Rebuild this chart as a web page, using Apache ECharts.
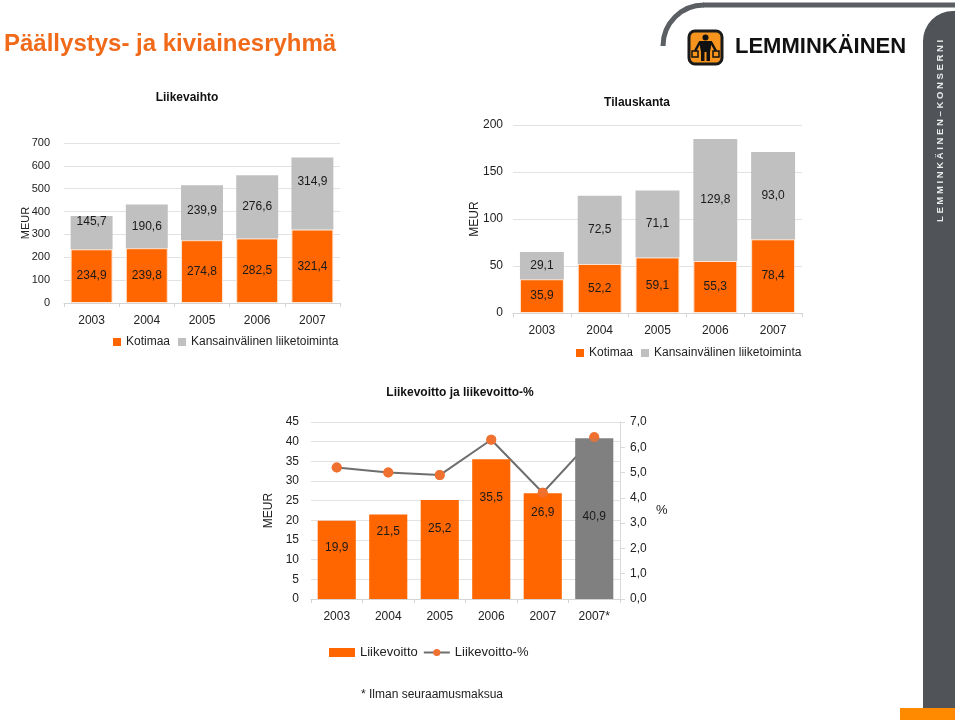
<!DOCTYPE html>
<html>
<head>
<meta charset="utf-8">
<title>Päällystys- ja kiviainesryhmä</title>
<script src="https://cdn.jsdelivr.net/npm/echarts@6/dist/echarts.min.js"></script>
<style>
  html, body { margin: 0; padding: 0; background: #fff; }
  #chart { width: 960px; height: 720px; }
</style>
</head>
<body>
<div id="chart"></div>
<script>
// Liikevaihto (MEUR)
const years = ['2003', '2004', '2005', '2006', '2007'];
const salesDomestic = [234.9, 239.8, 274.8, 282.5, 321.4];
const salesIntl = [145.7, 190.6, 239.9, 276.6, 314.9];

// Tilauskanta (MEUR)
const orderDomestic = [35.9, 52.2, 59.1, 55.3, 78.4];
const orderIntl = [29.1, 72.5, 71.1, 129.8, 93.0];

// Liikevoitto (MEUR) ja liikevoitto-%
const profitYears = ['2003', '2004', '2005', '2006', '2007', '2007*'];
const profit = [19.9, 21.5, 25.2, 35.5, 26.9, 40.9];
const profitPct = [5.2, 5.0, 4.9, 6.3, 4.2, 6.4];

const ORANGE = '#ff6600';
const FONT = '"Liberation Sans", Arial, sans-serif';
const fmt = v => v.toFixed(1).replace('.', ',');

// label nudges (pixels) so the numbers sit where the original slide has them
const salesIntlLabelDy = [-11, 0, -2, 0, -12];
const profitLabelDy = [-12, -25, -21, -31, -33, -2];

const chart = echarts.init(document.getElementById('chart'));

const catAxis = (gridIndex, data) => ({
  type: 'category',
  gridIndex: gridIndex,
  data: data,
  axisLine: { lineStyle: { color: '#d4d4d4' } },
  axisTick: { show: true, length: 4, lineStyle: { color: '#d4d4d4' } },
  axisLabel: { color: '#222', fontSize: 12, margin: 12 }
});

const valAxis = (gridIndex, max, interval, gap, labelMargin, fontSize) => ({
  type: 'value',
  gridIndex: gridIndex,
  min: 0,
  max: max,
  interval: interval,
  name: 'MEUR',
  nameLocation: 'middle',
  nameGap: gap,
  nameMoveOverlap: false,
  nameTextStyle: { color: '#222', fontSize: fontSize },
  axisLine: { show: false },
  axisTick: { show: false },
  axisLabel: { color: '#222', fontSize: fontSize, margin: labelMargin },
  splitLine: { lineStyle: { color: '#e2e2e2' } }
});

const barLabel = {
  show: true,
  position: 'inside',
  color: '#1a1a1a',
  fontSize: 12,
  formatter: p => fmt(p.value)
};

const legendBase = {
  padding: 0,
  itemStyle: { borderWidth: 0 },
  textStyle: { color: '#222', fontSize: 12 }
};

const option = {
  animation: false,
  textStyle: { fontFamily: FONT },
  grid: [
    { left: 64, top: 143, width: 276, height: 160 },
    { left: 513, top: 125, width: 289, height: 188 },
    { left: 311, top: 422, width: 309, height: 177 }
  ],
  legend: [
    Object.assign({}, legendBase, {
      left: 113, top: 336, icon: 'rect', itemWidth: 8, itemHeight: 8, itemGap: 8,
      data: ['Kotimaa', 'Kansainvälinen liiketoiminta']
    }),
    Object.assign({}, legendBase, {
      left: 576, top: 347, icon: 'rect', itemWidth: 8, itemHeight: 8, itemGap: 8,
      data: ['Kotimaa', 'Kansainvälinen liiketoiminta']
    }),
    Object.assign({}, legendBase, {
      left: 329, top: 646, itemWidth: 26, itemHeight: 9, itemGap: 5,
      textStyle: { color: '#222', fontSize: 13 },
      data: [{ name: 'Liikevoitto', icon: 'rect' }, { name: 'Liikevoitto-%' }]
    })
  ],
  xAxis: [
    catAxis(0, years),
    catAxis(1, years),
    catAxis(2, profitYears)
  ],
  yAxis: [
    valAxis(0, 700, 100, 33, 14, 11),
    valAxis(1, 200, 50, 32, 10, 12),
    valAxis(2, 45, 5, 36, 12, 12),
    {
      type: 'value',
      gridIndex: 2,
      position: 'right',
      min: 0,
      max: 7,
      interval: 1,
      name: '%',
      nameLocation: 'middle',
      nameRotate: 0,
      nameGap: 36,
      nameMoveOverlap: false,
      nameTextStyle: { color: '#222', fontSize: 13 },
      axisLine: { show: true, lineStyle: { color: '#d9d9d9' } },
      axisTick: { show: true, length: 5, lineStyle: { color: '#d9d9d9' } },
      axisLabel: { color: '#222', fontSize: 12, margin: 10, formatter: v => fmt(v) },
      splitLine: { show: false }
    }
  ],
  series: [
    // Liikevaihto
    {
      name: 'Kotimaa', type: 'bar', stack: 'sales', xAxisIndex: 0, yAxisIndex: 0,
      barCategoryGap: '24%',
      data: salesDomestic,
      itemStyle: { color: ORANGE, borderColor: '#fde6d4', borderWidth: 1 },
      label: barLabel
    },
    {
      name: 'Kansainvälinen liiketoiminta', type: 'bar', stack: 'sales', xAxisIndex: 0, yAxisIndex: 0,
      barCategoryGap: '24%',
      data: salesIntl.map((v, i) => ({ value: v, label: { offset: [0, salesIntlLabelDy[i]] } })),
      itemStyle: { color: '#c0c0c0' },
      label: barLabel
    },
    // Tilauskanta
    {
      name: 'Kotimaa', type: 'bar', stack: 'orders', xAxisIndex: 1, yAxisIndex: 1,
      barCategoryGap: '24%',
      data: orderDomestic,
      itemStyle: { color: ORANGE, borderColor: '#fde6d4', borderWidth: 1 },
      label: barLabel
    },
    {
      name: 'Kansainvälinen liiketoiminta', type: 'bar', stack: 'orders', xAxisIndex: 1, yAxisIndex: 1,
      barCategoryGap: '24%',
      data: orderIntl,
      itemStyle: { color: '#c0c0c0' },
      label: barLabel
    },
    // Liikevoitto
    {
      name: 'Liikevoitto', type: 'bar', xAxisIndex: 2, yAxisIndex: 2, z: 2,
      barCategoryGap: '26%',
      data: profit.map((v, i) => ({
        value: v,
        itemStyle: i === profit.length - 1 ? { color: '#808080' } : undefined,
        label: { offset: [0, profitLabelDy[i]] }
      })),
      itemStyle: { color: ORANGE },
      label: barLabel
    },
    {
      // the line runs behind the bars, the dots sit on top (scatter below)
      name: 'Liikevoitto-%', type: 'line', xAxisIndex: 2, yAxisIndex: 3, z: 1,
      data: profitPct,
      symbol: 'circle', symbolSize: 10,
      lineStyle: { color: '#6e6e6e', width: 2 },
      itemStyle: { color: '#f07030' }
    },
    {
      name: 'Liikevoitto-%', type: 'scatter', xAxisIndex: 2, yAxisIndex: 3, z: 3,
      data: profitPct,
      symbolSize: 10,
      itemStyle: { color: '#f07030' }
    }
  ],
  graphic: [
    // page title
    {
      type: 'text', x: 4, y: 44,
      style: { text: 'Päällystys- ja kiviainesryhmä', fill: '#f06a1a', font: 'bold 24px ' + FONT, verticalAlign: 'middle' }
    },
    // chart titles
    {
      type: 'text', x: 187, y: 98,
      style: { text: 'Liikevaihto', fill: '#111', font: 'bold 12px ' + FONT, align: 'center', verticalAlign: 'middle' }
    },
    {
      type: 'text', x: 637, y: 103,
      style: { text: 'Tilauskanta', fill: '#111', font: 'bold 12px ' + FONT, align: 'center', verticalAlign: 'middle' }
    },
    {
      type: 'text', x: 460, y: 393,
      style: { text: 'Liikevoitto ja liikevoitto-%', fill: '#111', font: 'bold 12px ' + FONT, align: 'center', verticalAlign: 'middle' }
    },
    {
      type: 'text', x: 432, y: 695,
      style: { text: '* Ilman seuraamusmaksua', fill: '#222', font: '12px ' + FONT, align: 'center', verticalAlign: 'middle' }
    },
    // grey frame: top arc and side bar
    {
      type: 'arc',
      shape: { cx: 704, cy: 46, r: 41, startAngle: Math.PI, endAngle: Math.PI * 1.5, clockwise: true },
      style: { stroke: '#5b5f64', lineWidth: 5, fill: 'none' }
    },
    {
      type: 'rect', shape: { x: 703, y: 2.5, width: 252, height: 5 },
      style: { fill: '#5b5f64' }
    },
    {
      type: 'rect', shape: { x: 923, y: 11, width: 32, height: 697, r: [30, 0, 0, 0] },
      style: { fill: '#505459' }
    },
    {
      type: 'rect', shape: { x: 900, y: 708, width: 55, height: 12 },
      style: { fill: '#ff8a00' }
    },
    {
      type: 'text', x: 940, y: 131, rotation: Math.PI / 2,
      style: {
        text: 'L E M M I N K Ä I N E N – K O N S E R N I',
        fill: '#ececec', font: 'bold 9.5px ' + FONT, align: 'center', verticalAlign: 'middle'
      }
    },
    // company logo
    {
      type: 'rect', shape: { x: 689, y: 31, width: 33, height: 33, r: 6 },
      style: { fill: '#f7941d', stroke: '#1a1a1a', lineWidth: 3 }
    },
    { type: 'circle', shape: { cx: 705.5, cy: 37.5, r: 3 }, style: { fill: '#111' } },
    { type: 'polygon', shape: { points: [[699, 41], [712, 41], [710, 52], [701, 52]] }, style: { fill: '#111' } },
    { type: 'rect', shape: { x: 701, y: 51, width: 3.5, height: 10 }, style: { fill: '#111' } },
    { type: 'rect', shape: { x: 706.5, y: 51, width: 3.5, height: 10 }, style: { fill: '#111' } },
    { type: 'line', shape: { x1: 700, y1: 42, x2: 695, y2: 51 }, style: { stroke: '#111', lineWidth: 2.5 } },
    { type: 'line', shape: { x1: 711, y1: 42, x2: 716, y2: 51 }, style: { stroke: '#111', lineWidth: 2.5 } },
    { type: 'rect', shape: { x: 692, y: 51, width: 6, height: 6 }, style: { fill: 'none', stroke: '#111', lineWidth: 1.5 } },
    { type: 'rect', shape: { x: 713, y: 51, width: 6, height: 6 }, style: { fill: 'none', stroke: '#111', lineWidth: 1.5 } },
    {
      type: 'text', x: 735, y: 47,
      style: { text: 'LEMMINKÄINEN', fill: '#111', font: 'bold 22px ' + FONT, verticalAlign: 'middle' }
    }
  ]
};

chart.setOption(option);

window.addEventListener('resize', () => {
  chart.resize();
});
</script>
</body>
</html>
